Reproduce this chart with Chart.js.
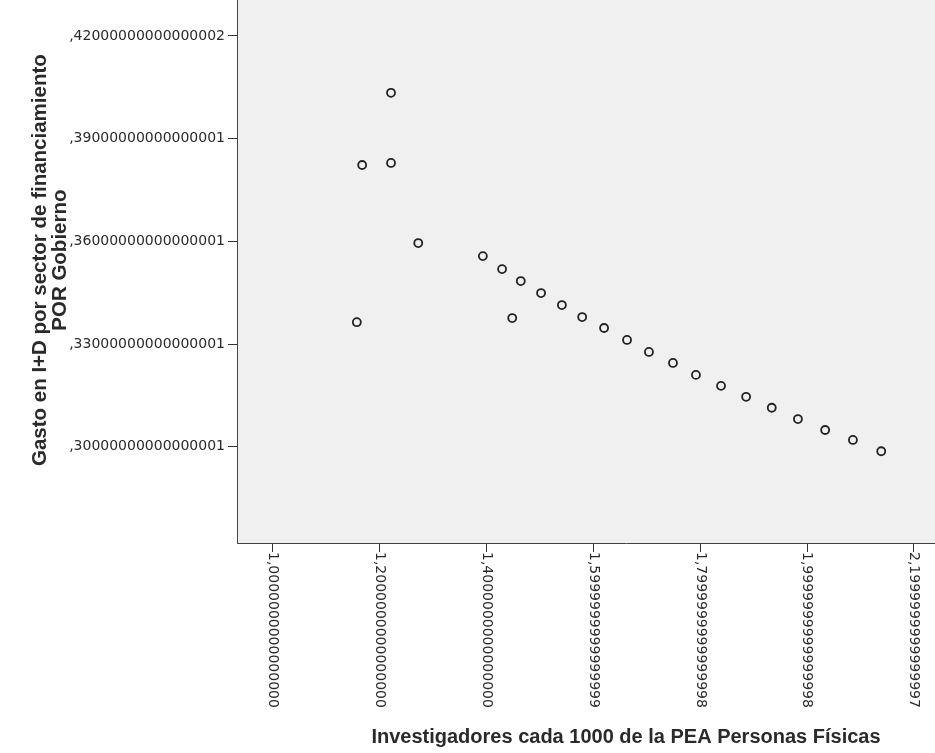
<!DOCTYPE html>
<html>
<head>
<meta charset="utf-8">
<title>Gasto en I+D por Gobierno</title>
<script src="https://cdn.jsdelivr.net/npm/chart.js@4.4.1/dist/chart.umd.min.js"></script>
<style>
    html, body { margin: 0; padding: 0; background: #fff; overflow: hidden; }
    #wrap { width: 1015px; height: 753px; }
</style>
</head>
<body>
<div id="wrap"><canvas id="scatterChart" width="1015" height="753"></canvas></div>
<script>
// investigadores cada 1000 de la PEA (x) vs gasto por Gobierno (y)
const investigadores = [1.157, 1.167, 1.221, 1.221, 1.272, 1.393, 1.429, 1.464, 1.448, 1.502, 1.541, 1.579,
    1.620, 1.663, 1.704, 1.749, 1.792, 1.839, 1.886, 1.934, 1.983, 2.034, 2.086, 2.139];
const gastoGobierno = [0.3364, 0.3823, 0.3829, 0.4034, 0.3595, 0.3557, 0.3519, 0.3484, 0.3376, 0.3449, 0.3414, 0.3379,
    0.3347, 0.3312, 0.3277, 0.3245, 0.3210, 0.3178, 0.3146, 0.3114, 0.3081, 0.3049, 0.3020, 0.2987];

const xTickValues = [1.0, 1.2, 1.4, 1.6, 1.8, 2.0, 2.2];
const xTickLabels = ['1,0000000000000000', '1,2000000000000000', '1,4000000000000000', '1,5999999999999999',
    '1,7999999999999998', '1,9999999999999998', '2,1999999999999997'];
const yTickValues = [0.30, 0.33, 0.36, 0.39, 0.42];
const yTickLabels = [',30000000000000001', ',33000000000000001', ',36000000000000001', ',39000000000000001', ',42000000000000002'];

const xTitle = 'Investigadores cada 1000 de la PEA Personas Físicas';
// los espacios iniciales suben un poco el titulo, como en el original
const yTitle = ['    Gasto en I+D por sector de financiamiento', '    POR Gobierno'];

const textColor = '#2a2a2a';

// fondo gris del area de grafico
const plotBackground = {
    id: 'plotBackground',
    beforeDraw(chart) {
        const {ctx, chartArea} = chart;
        ctx.save();
        ctx.fillStyle = '#f0f0f0';
        ctx.fillRect(chartArea.left, chartArea.top, chartArea.right - chartArea.left, chartArea.bottom - chartArea.top);
        ctx.restore();
    }
};

// etiquetas del eje x giradas hacia abajo (lectura de arriba a abajo)
const rotatedXLabels = {
    id: 'rotatedXLabels',
    afterDraw(chart) {
        const ctx = chart.ctx;
        const xScale = chart.scales.x;
        ctx.save();
        ctx.fillStyle = textColor;
        ctx.font = '14px "DejaVu Sans"';
        ctx.textAlign = 'left';
        ctx.textBaseline = 'middle';
        xScale.ticks.forEach((tick, i) => {
            const px = xScale.getPixelForValue(tick.value);
            ctx.save();
            ctx.translate(px, chart.chartArea.bottom + 9);
            ctx.rotate(Math.PI / 2);
            ctx.fillText(xTickLabels[i], 0, 0);
            ctx.restore();
        });
        ctx.restore();
    }
};

document.addEventListener('DOMContentLoaded', () => {
    const points = investigadores.map((x, i) => ({x: x, y: gastoGobierno[i]}));

    new Chart(document.getElementById('scatterChart'), {
        type: 'scatter',
        data: {
            datasets: [{
                data: points,
                pointStyle: 'circle',
                pointRadius: 4,
                pointBorderWidth: 1.8,
                borderColor: '#222',
                backgroundColor: 'rgba(0,0,0,0)'
            }]
        },
        options: {
            responsive: false,
            animation: false,
            devicePixelRatio: 1,
            layout: { autoPadding: false, padding: 0 },
            plugins: {
                legend: { display: false },
                tooltip: { enabled: false }
            },
            scales: {
                x: {
                    type: 'linear',
                    min: 0.9326,
                    max: 2.3895,
                    afterBuildTicks: scale => { scale.ticks = xTickValues.map(v => ({value: v})); },
                    afterFit: scale => {
                        scale.height = 210;
                        scale.paddingLeft = 0;
                        scale.paddingRight = 0;
                    },
                    ticks: { display: false },
                    grid: { drawOnChartArea: false, drawTicks: true, tickLength: 9, color: '#333', lineWidth: 1 },
                    border: { display: true, color: '#444', width: 1 },
                    title: {
                        display: true,
                        text: xTitle,
                        color: textColor,
                        font: { family: 'Liberation Sans', size: 20, weight: 'bold' },
                        padding: { top: 0, bottom: 4 }
                    }
                },
                y: {
                    type: 'linear',
                    min: 0.2719,
                    max: 0.4305,
                    afterBuildTicks: scale => { scale.ticks = yTickValues.map(v => ({value: v})); },
                    afterFit: scale => {
                        scale.width = 237;
                        scale.paddingTop = 0;
                        scale.paddingBottom = 0;
                    },
                    ticks: {
                        color: textColor,
                        font: { family: 'DejaVu Sans', size: 14 },
                        padding: 3,
                        callback: (value, index) => yTickLabels[index]
                    },
                    grid: { drawOnChartArea: false, drawTicks: true, tickLength: 9, color: '#333', lineWidth: 1 },
                    border: { display: true, color: '#444', width: 1 },
                    title: {
                        display: true,
                        text: yTitle,
                        color: textColor,
                        font: { family: 'Liberation Sans', size: 20.5, weight: 'bold', lineHeight: 1.0 },
                        padding: { top: 30, bottom: 0 }
                    }
                }
            }
        },
        plugins: [plotBackground, rotatedXLabels]
    });
});
</script>
</body>
</html>
